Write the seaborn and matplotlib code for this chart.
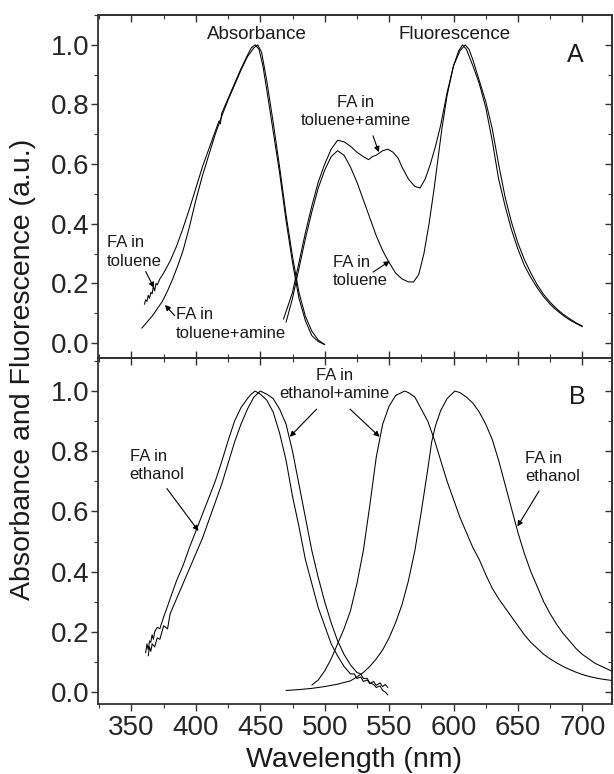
"""Absorbance / fluorescence spectra of FA in solvents with and without amine."""

import matplotlib
matplotlib.use("Agg")
import matplotlib.pyplot as plt
from matplotlib.ticker import MultipleLocator
import seaborn as sns

# ---- panel A: toluene -------------------------------------------------------
abs_tol_nm = [360, 361, 362, 363, 364, 365, 366, 367, 368, 369, 370, 372, 375,
              380, 385, 390, 395, 400, 405, 410, 415, 418, 419, 420, 425, 430,
              435, 440, 443, 446, 449, 452, 455, 460, 465, 470, 475, 480, 485,
              490, 495, 500]
abs_tol_val = [0.13, 0.145, 0.14, 0.16, 0.15, 0.17, 0.165, 0.19, 0.175, 0.20,
               0.195, 0.215, 0.235, 0.275, 0.325, 0.385, 0.45, 0.52, 0.59, 0.65,
               0.71, 0.745, 0.735, 0.77, 0.82, 0.87, 0.92, 0.965, 0.99, 1.0,
               0.985, 0.93, 0.85, 0.71, 0.57, 0.41, 0.27, 0.15, 0.075, 0.025,
               0.005, -0.005]

abs_tola_nm = [358, 362, 366, 370, 374, 378, 382, 386, 390, 395, 400, 405, 410,
               415, 420, 425, 430, 435, 440, 445, 448, 451, 455, 460, 465, 470,
               475, 480, 485, 490, 495, 500]
abs_tola_val = [0.05, 0.07, 0.09, 0.115, 0.14, 0.175, 0.215, 0.26, 0.31, 0.39,
                0.48, 0.56, 0.63, 0.70, 0.76, 0.815, 0.865, 0.915, 0.96, 0.99,
                1.0, 0.975, 0.88, 0.74, 0.59, 0.43, 0.29, 0.17, 0.09, 0.04,
                0.01, -0.005]

fl_tol_nm = [470, 475, 480, 485, 490, 495, 500, 505, 510, 515, 520, 525, 530,
             535, 540, 545, 550, 555, 560, 565, 569, 573, 577, 581, 585, 588,
             591, 595, 600, 604, 607, 610, 615, 620, 625, 630, 635, 640, 645,
             650, 655, 660, 665, 670, 675, 680, 685, 690, 695, 700]
fl_tol_val = [0.07, 0.15, 0.25, 0.35, 0.44, 0.52, 0.58, 0.625, 0.645, 0.63,
              0.59, 0.54, 0.48, 0.42, 0.36, 0.31, 0.27, 0.235, 0.215, 0.205,
              0.205, 0.23, 0.30, 0.40, 0.52, 0.62, 0.72, 0.83, 0.93, 0.98, 1.0,
              0.985, 0.93, 0.87, 0.79, 0.68, 0.55, 0.46, 0.38, 0.315, 0.26,
              0.22, 0.185, 0.155, 0.13, 0.11, 0.093, 0.078, 0.066, 0.055]

fl_tola_nm = [468, 475, 480, 485, 490, 495, 500, 505, 510, 515, 520, 525, 530,
              534, 537, 540, 545, 549, 553, 557, 560, 565, 570, 574, 578, 582,
              586, 590, 595, 600, 605, 609, 612, 615, 620, 625, 630, 635, 640,
              645, 650, 655, 660, 665, 670, 675, 680, 685, 690, 695, 700]
fl_tola_val = [0.08, 0.17, 0.27, 0.37, 0.46, 0.54, 0.60, 0.65, 0.68, 0.675,
               0.66, 0.64, 0.625, 0.615, 0.625, 0.63, 0.645, 0.65, 0.64, 0.62,
               0.59, 0.55, 0.525, 0.52, 0.55, 0.60, 0.66, 0.73, 0.84, 0.93,
               0.98, 1.0, 0.985, 0.95, 0.88, 0.81, 0.72, 0.60, 0.49, 0.405,
               0.335, 0.28, 0.235, 0.195, 0.163, 0.137, 0.115, 0.097, 0.082,
               0.068, 0.057]

# ---- panel B: ethanol -------------------------------------------------------
abs_eth_nm = [361, 362, 363, 364, 365, 366, 367, 368, 370, 372, 375, 378, 380,
              385, 390, 395, 400, 405, 410, 415, 420, 425, 430, 435, 440, 443,
              446, 450, 455, 460, 465, 470, 475, 480, 485, 490, 495, 500, 505,
              510, 515, 520, 523, 525, 528, 530, 533, 535, 538, 540, 543, 545,
              547, 549]
abs_eth_val = [0.13, 0.16, 0.14, 0.17, 0.165, 0.19, 0.175, 0.20, 0.215, 0.21,
               0.25, 0.285, 0.31, 0.37, 0.42, 0.48, 0.535, 0.59, 0.645, 0.70,
               0.765, 0.835, 0.90, 0.945, 0.975, 0.99, 1.0, 0.99, 0.97, 0.93,
               0.86, 0.77, 0.65, 0.55, 0.44, 0.36, 0.28, 0.22, 0.16, 0.12,
               0.085, 0.06, 0.06, 0.045, 0.05, 0.035, 0.04, 0.028, 0.035,
               0.022, 0.03, 0.018, 0.025, 0.015]

abs_etha_nm = [363, 364, 365, 366, 368, 370, 372, 375, 378, 380, 385, 390, 395,
               400, 405, 410, 415, 420, 425, 430, 435, 440, 445, 450, 455, 460,
               465, 470, 475, 480, 485, 490, 495, 500, 505, 510, 515, 520, 525,
               528, 530, 533, 535, 538, 540, 543, 545, 547, 549]
abs_etha_val = [0.12, 0.15, 0.135, 0.16, 0.15, 0.18, 0.175, 0.22, 0.21, 0.26,
                0.31, 0.36, 0.41, 0.46, 0.51, 0.57, 0.63, 0.69, 0.76, 0.83, 0.89,
                0.94, 0.98, 1.0, 0.99, 0.975, 0.94, 0.89, 0.80, 0.69, 0.58,
                0.47, 0.38, 0.30, 0.23, 0.17, 0.125, 0.09, 0.065, 0.06, 0.045,
                0.045, 0.03, 0.025, 0.015, 0.02, 0.005, 0.0, -0.01]

fl_eth_nm = [470, 480, 490, 500, 510, 520, 525, 530, 535, 540, 545, 550, 555,
             560, 565, 570, 575, 580, 583, 586, 590, 595, 601, 605, 610, 615,
             620, 625, 630, 635, 640, 645, 650, 655, 660, 665, 670, 675, 680,
             685, 690, 695, 700, 705, 710, 715, 720, 725]
fl_eth_val = [0.005, 0.008, 0.012, 0.018, 0.026, 0.037, 0.05, 0.065, 0.085,
              0.11, 0.14, 0.18, 0.23, 0.29, 0.37, 0.47, 0.60, 0.74, 0.83, 0.885,
              0.935, 0.975, 1.0, 0.995, 0.98, 0.96, 0.93, 0.89, 0.84, 0.77,
              0.69, 0.61, 0.53, 0.46, 0.40, 0.35, 0.30, 0.26, 0.225, 0.195,
              0.17, 0.145, 0.125, 0.11, 0.095, 0.085, 0.075, 0.065]

fl_etha_nm = [490, 495, 500, 505, 510, 515, 520, 525, 530, 535, 540, 545, 550,
              555, 562, 565, 570, 575, 580, 585, 590, 595, 600, 605, 610, 615,
              620, 625, 630, 635, 640, 645, 650, 655, 660, 665, 670, 675, 680,
              685, 690, 695, 700, 705, 710, 715, 720, 725]
fl_etha_val = [0.023, 0.04, 0.07, 0.11, 0.16, 0.21, 0.27, 0.36, 0.47, 0.62,
               0.78, 0.89, 0.95, 0.985, 1.0, 0.995, 0.98, 0.94, 0.90, 0.84,
               0.77, 0.70, 0.64, 0.58, 0.53, 0.48, 0.44, 0.39, 0.345, 0.31,
               0.28, 0.25, 0.22, 0.19, 0.165, 0.145, 0.125, 0.11, 0.097, 0.085,
               0.075, 0.066, 0.058, 0.052, 0.047, 0.043, 0.04, 0.037]

LINE = dict(color="black", lw=0.75, estimator=None, sort=False)
FS_TICK = 20
FS_NOTE = 12


def style_axes(ax, ylim, bottom_labels):
    ax.set_xlim(324, 723)
    ax.set_ylim(*ylim)
    ax.xaxis.set_major_locator(MultipleLocator(50))
    ax.xaxis.set_minor_locator(MultipleLocator(25))
    ax.yaxis.set_major_locator(MultipleLocator(0.2))
    ax.yaxis.set_minor_locator(MultipleLocator(0.1))
    ax.set_yticks([0, 0.2, 0.4, 0.6, 0.8, 1.0])
    ax.set_yticklabels(["0.0", "0.2", "0.4", "0.6", "0.8", "1.0"])
    for s in ax.spines.values():
        s.set_linewidth(1.3)
        s.set_color("#333333")
    ax.tick_params(axis="y", which="both", direction="out", left=True,
                   right=False, labelsize=FS_TICK, pad=1, color="#333333")
    ax.tick_params(axis="y", which="major", length=5, width=1)
    ax.tick_params(axis="y", which="minor", length=3, width=0.8)
    ax.tick_params(axis="x", which="both", bottom=True, top=False,
                   direction="out" if bottom_labels else "in",
                   labelbottom=bottom_labels, labelsize=FS_TICK, pad=3,
                   color="#333333")
    ax.tick_params(axis="x", which="major", length=5, width=1)
    ax.tick_params(axis="x", which="minor", length=3, width=0.8)
    # mirrored ticks pointing inwards on top and right
    sx = ax.secondary_xaxis("top")
    sx.xaxis.set_major_locator(MultipleLocator(50))
    sx.xaxis.set_minor_locator(MultipleLocator(25))
    sx.tick_params(which="both", direction="in", labeltop=False,
                   color="#333333")
    sx.tick_params(which="major", length=5, width=1)
    sx.tick_params(which="minor", length=3, width=0.8)
    sy = ax.secondary_yaxis("right")
    sy.yaxis.set_major_locator(MultipleLocator(0.2))
    sy.yaxis.set_minor_locator(MultipleLocator(0.1))
    sy.tick_params(which="both", direction="in", labelright=False,
                   color="#333333")
    sy.tick_params(which="major", length=5, width=1)
    sy.tick_params(which="minor", length=3, width=0.8)
    ax.set_xlabel("")
    ax.set_ylabel("")


def arrow(ax, start, tip):
    ax.annotate("", xy=tip, xytext=start,
                arrowprops=dict(arrowstyle="-|>", color="black", lw=0.8,
                                mutation_scale=8, shrinkA=0, shrinkB=0))


def main():
    sns.set_theme(style="ticks")
    plt.rcParams["font.family"] = ["Liberation Sans", "DejaVu Sans"]
    plt.rcParams["text.color"] = "#1a1a1a"

    fig = plt.figure(figsize=(6.14, 7.74), dpi=100)
    ax_a = fig.add_axes([0.1596, 0.5375, 0.8371, 0.4431])
    ax_b = fig.add_axes([0.1596, 0.0904, 0.8371, 0.4471])

    # panel A
    sns.lineplot(x=abs_tol_nm, y=abs_tol_val, ax=ax_a, **LINE)
    sns.lineplot(x=abs_tola_nm, y=abs_tola_val, ax=ax_a, **LINE)
    sns.lineplot(x=fl_tol_nm, y=fl_tol_val, ax=ax_a, **LINE)
    sns.lineplot(x=fl_tola_nm, y=fl_tola_val, ax=ax_a, **LINE)
    style_axes(ax_a, (-0.05, 1.10), bottom_labels=False)

    ax_a.text(447.5, 1.034, "Absorbance", ha="center", va="center",
              fontsize=13.5)
    ax_a.text(601, 1.034, "Fluorescence", ha="center", va="center",
              fontsize=13.5)
    ax_a.text(694.5, 0.966, "A", ha="center", va="center", fontsize=18)
    ax_a.text(331, 0.306, "FA in\ntoluene", ha="left", va="center",
              fontsize=FS_NOTE, linespacing=1.3)
    arrow(ax_a, (361, 0.24), (367.5, 0.185))
    ax_a.text(384.5, 0.063, "FA in\ntoluene+amine", ha="left", va="center",
              fontsize=FS_NOTE, linespacing=1.3)
    arrow(ax_a, (383.5, 0.092), (376, 0.128))
    ax_a.text(524, 0.777, "FA in\ntoluene+amine", ha="center", va="center",
              fontsize=FS_NOTE, linespacing=1.3, multialignment="center")
    arrow(ax_a, (537.5, 0.695), (542, 0.64))
    ax_a.text(506.3, 0.24, "FA in\ntoluene", ha="left", va="center",
              fontsize=FS_NOTE, linespacing=1.3)
    arrow(ax_a, (537.5, 0.238), (550.5, 0.275))

    # panel B
    sns.lineplot(x=abs_eth_nm, y=abs_eth_val, ax=ax_b, **LINE)
    sns.lineplot(x=abs_etha_nm, y=abs_etha_val, ax=ax_b, **LINE)
    sns.lineplot(x=fl_eth_nm, y=fl_eth_val, ax=ax_b, **LINE)
    sns.lineplot(x=fl_etha_nm, y=fl_etha_val, ax=ax_b, **LINE)
    style_axes(ax_b, (-0.04, 1.11), bottom_labels=True)

    ax_b.text(696.4, 0.98, "B", ha="center", va="center", fontsize=18)
    ax_b.text(348.5, 0.753, "FA in\nethanol", ha="left", va="center",
              fontsize=FS_NOTE, linespacing=1.3)
    arrow(ax_b, (377.5, 0.676), (402, 0.535))
    ax_b.text(507.5, 1.022, "FA in\nethanol+amine", ha="center", va="center",
              fontsize=FS_NOTE, linespacing=1.3, multialignment="center")
    arrow(ax_b, (493.7, 0.94), (472.9, 0.848))
    arrow(ax_b, (519.7, 0.94), (542.6, 0.848))
    ax_b.text(655.7, 0.746, "FA in\nethanol", ha="left", va="center",
              fontsize=FS_NOTE, linespacing=1.3)
    arrow(ax_b, (666.4, 0.668), (649.6, 0.55))

    fig.text(23 / 614, 1 - 369 / 774, "Absorbance and Fluorescence (a.u.)",
             rotation=90, ha="center", va="center", fontsize=20.5)
    fig.text(354 / 614, 1 - 760 / 774, "Wavelength (nm)", ha="center",
             va="center", fontsize=20.5)

    fig.savefig("out.png", dpi=100)
    plt.close(fig)


if __name__ == "__main__":
    main()
